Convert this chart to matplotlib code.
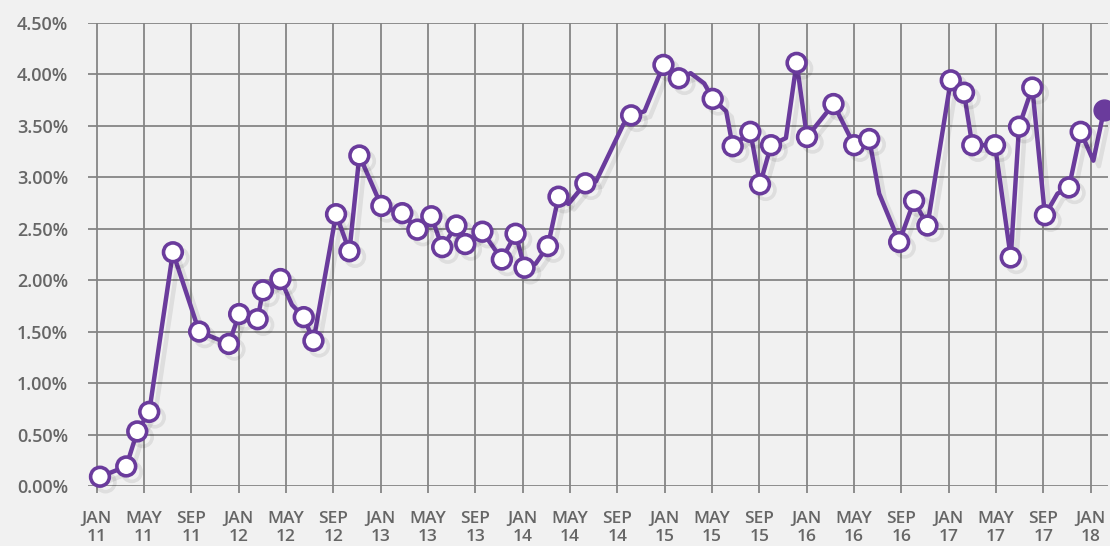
import numpy as np
import matplotlib
matplotlib.use('Agg')
import matplotlib.pyplot as plt
import matplotlib.patheffects as pe

# months since Jan 2011, rate in %, 1 = point drawn with a marker
months = [0.28, 2.5, 3.43, 4.44, 6.44, 8.66, 11.17, 12.04, 13.6, 14.05,
          15.53, 16.5, 17.5, 18.32, 20.23, 21.36, 22.2, 24.06, 25.83, 27.1,
          28.28, 29.2, 30.4, 31.15, 32.6, 34.24, 35.4, 36.16, 37.1, 38.13,
          39.03, 39.87, 41.3, 42.2, 44.5, 45.17, 46.3, 47.9, 49.2, 50.2,
          51.35, 52.06, 53.2, 53.75, 55.24, 56.06, 56.99, 58.25, 59.15, 60.03,
          62.27, 64.02, 65.29, 66.13, 67.82, 69.08, 70.21, 72.18, 73.3, 74.0,
          75.92, 77.25, 77.95, 79.07, 80.14, 81.2, 82.17, 83.16, 84.23, 85.13]
rate = [0.09, 0.19, 0.53, 0.72, 2.27, 1.50, 1.38, 1.67, 1.62, 1.90,
        2.01, 1.76, 1.64, 1.41, 2.64, 2.28, 3.21, 2.72, 2.65, 2.49,
        2.62, 2.32, 2.53, 2.35, 2.47, 2.20, 2.45, 2.12, 2.16, 2.33,
        2.81, 2.74, 2.94, 2.96, 3.51, 3.60, 3.64, 4.09, 3.96, 4.01,
        3.91, 3.76, 3.64, 3.30, 3.44, 2.93, 3.31, 3.38, 4.11, 3.39,
        3.71, 3.31, 3.37, 2.84, 2.37, 2.77, 2.53, 3.94, 3.82, 3.31,
        3.31, 2.22, 3.49, 3.87, 2.63, 2.84, 2.90, 3.44, 3.16, 3.65]
marked = [1, 1, 1, 1, 1, 1, 1, 1, 1, 1,
          1, 0, 1, 1, 1, 1, 1, 1, 1, 1,
          1, 1, 1, 1, 1, 1, 1, 1, 0, 1,
          1, 0, 1, 0, 0, 1, 0, 1, 1, 0,
          0, 1, 0, 1, 1, 1, 1, 0, 1, 1,
          1, 1, 1, 0, 1, 1, 1, 1, 1, 1,
          1, 1, 1, 1, 1, 0, 1, 1, 0, 0]

tick_labels = ["JAN\n11", "MAY\n11", "SEP\n11", "JAN\n12", "MAY\n12", "SEP\n12",
               "JAN\n13", "MAY\n13", "SEP\n13", "JAN\n14", "MAY\n14", "SEP\n14",
               "JAN\n15", "MAY\n15", "SEP\n15", "JAN\n16", "MAY\n16", "SEP\n16",
               "JAN\n17", "MAY\n17", "SEP\n17", "JAN\n18"]
y_ticks = [0, 0.5, 1.0, 1.5, 2.0, 2.5, 3.0, 3.5, 4.0, 4.5]

PURPLE = '#6a3b9c'
GRID = '#858585'
TEXT = '#666666'
BG = '#f1f1f1'

plt.rcParams['font.family'] = ['Open Sans', 'DejaVu Sans']

fig = plt.figure(figsize=(11.1, 5.46), dpi=100, facecolor=BG)
ax = fig.add_axes([0.079, 0.1099, 0.919, 0.8485])
ax.set_facecolor(BG)

x = np.array(months)
y = np.array(rate)
m = np.array(marked, dtype=bool)

shadow = [pe.SimpleLineShadow(offset=(4, -4), shadow_color='k', alpha=0.08), pe.Normal()]

ax.plot(x, y, color=PURPLE, lw=3.2, solid_joinstyle='round', solid_capstyle='round',
        zorder=3, path_effects=shadow, clip_on=False)
ax.plot(x[m], y[m], ls='none', marker='o', ms=13.5, mfc='white', mec=PURPLE, mew=2.6,
        zorder=4, path_effects=shadow, clip_on=False)
ax.plot(x[-1:], y[-1:], ls='none', marker='o', ms=15, mfc=PURPLE, mec=PURPLE,
        zorder=5, clip_on=False)

ax.set_xlim(-0.76, 85.45)
ax.set_ylim(0, 4.5)

ax.set_xticks(np.arange(len(tick_labels)) * 4)
ax.set_xticklabels(tick_labels, fontsize=12.5, color=TEXT, fontweight='semibold',
                   linespacing=1.15)
ax.set_yticks(y_ticks)
ax.set_yticklabels(['{:.2f}%'.format(v) for v in y_ticks], fontsize=13, color=TEXT,
                   fontweight='semibold')

ax.tick_params(axis='x', length=5, width=1.3, color=GRID, pad=13)
ax.tick_params(axis='y', length=0, pad=14)
ax.grid(True, color=GRID, lw=1.3, zorder=1)
ax.set_axisbelow(True)
for s in ax.spines.values():
    s.set_visible(False)

plt.savefig('out.png', dpi=100, facecolor=BG)
